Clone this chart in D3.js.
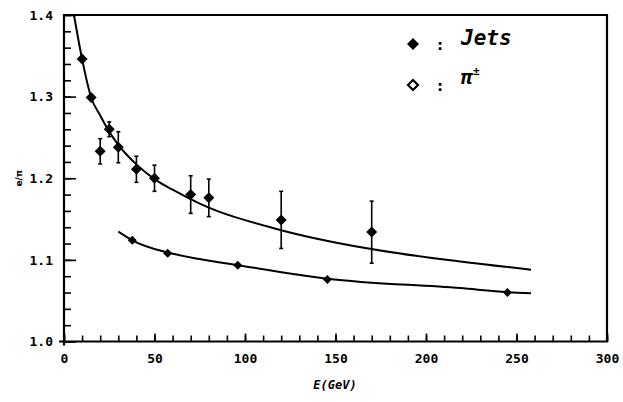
<!DOCTYPE html>
<html>
<head>
<meta charset="utf-8">
<script src="https://cdn.jsdelivr.net/npm/d3@7"></script>
<style>
  body { margin: 0; background: #fff; }
  svg { display: block; }
  .tick text { font-family: "DejaVu Sans Mono", monospace; font-weight: bold; font-size: 13px; fill: #000; }
</style>
</head>
<body>
<script>
// jets: energy, ratio, error
const jetE = [10, 15, 20, 25, 30, 40, 50, 70, 80, 120, 170];
const jetV = [1.346, 1.299, 1.233, 1.260, 1.238, 1.211, 1.200, 1.180, 1.176, 1.149, 1.134];
const jetErr = [0.005, 0.004, 0.0155, 0.009, 0.019, 0.016, 0.016, 0.023, 0.023, 0.035, 0.038];

// pions
const pionE = [37.7, 57.3, 96, 145.5, 245];
const pionV = [1.124, 1.108, 1.0935, 1.076, 1.060];

// fitted curves
const jetCurveE = [5.5, 10, 15, 20, 25, 30, 40, 50, 60, 75, 119, 169, 219, 258];
const jetCurveV = [1.4, 1.346, 1.299, 1.277, 1.257, 1.241, 1.217, 1.199, 1.186, 1.169, 1.137, 1.1135, 1.098, 1.088];
const pionCurveE = [30, 37.7, 57.3, 75, 96, 145.5, 219, 245, 258];
const pionCurveV = [1.1346, 1.124, 1.109, 1.101, 1.0935, 1.077, 1.0654, 1.0605, 1.0592];

const xTicks = [0, 50, 100, 150, 200, 250, 300];
const yTicks = [1.0, 1.1, 1.2, 1.3, 1.4];

const W = 623, H = 402;
const svg = d3.select("body").append("svg").attr("width", W).attr("height", H);

const x = d3.scaleLinear().domain([0, 300]).range([64, 607]);
const y = d3.scaleLinear().domain([1.0, 1.4]).range([341.5, 15]);

// minor ticks
svg.append("g")
  .attr("transform", "translate(" + x(0) + ",0)")
  .call(d3.axisLeft(y).ticks(20).tickSize(-7).tickFormat(""))
  .call((g) => g.select(".domain").remove());
svg.append("g")
  .attr("transform", "translate(0," + y(1.0) + ")")
  .call(d3.axisBottom(x).ticks(30).tickSize(-6).tickFormat(""))
  .call((g) => g.select(".domain").remove());

// major ticks + labels
const yAxis = svg.append("g")
  .attr("transform", "translate(" + x(0) + ",0)")
  .call(d3.axisLeft(y).tickValues(yTicks).tickSizeInner(-12).tickSizeOuter(0).tickPadding(11).tickFormat(d3.format(".1f")));
yAxis.select(".domain").remove();
const xAxis = svg.append("g")
  .attr("transform", "translate(0," + y(1.0) + ")")
  .call(d3.axisBottom(x).tickValues(xTicks).tickSizeInner(-8).tickSizeOuter(0).tickPadding(12));
xAxis.select(".domain").remove();

svg.selectAll(".tick line").attr("stroke", "#000").attr("stroke-width", 1.6);

// frame
svg.append("path")
  .attr("d", "M" + (x(0) - 5) + "," + y(1.0) + "H" + x(300) + "V" + y(1.4) + "H" + x(0) + "V" + (y(1.0) + 4))
  .attr("fill", "none")
  .attr("stroke", "#000")
  .attr("stroke-width", 2.2);

// axis titles
svg.append("text")
  .attr("x", 335).attr("y", 389)
  .attr("text-anchor", "middle")
  .style("font-family", "DejaVu Sans Mono")
  .style("font-weight", "bold")
  .style("font-style", "italic")
  .style("font-size", "12px")
  .text("E(GeV)");
svg.append("text")
  .attr("transform", "translate(19," + y(1.2) + ") rotate(-90)")
  .attr("text-anchor", "middle")
  .attr("dy", "0.35em")
  .style("font-family", "DejaVu Sans")
  .style("font-weight", "bold")
  .style("font-size", "9px")
  .text("e/π");

// curves
const line = d3.line().x((d) => x(d[0])).y((d) => y(d[1])).curve(d3.curveMonotoneX);
[[jetCurveE, jetCurveV], [pionCurveE, pionCurveV]].forEach(([es, vs]) => {
  svg.append("path")
    .datum(es.map((e, i) => [e, vs[i]]))
    .attr("d", line)
    .attr("fill", "none")
    .attr("stroke", "#000")
    .attr("stroke-width", 2);
});

// error bars
const jets = jetE.map((e, i) => ({ e: e, v: jetV[i], err: jetErr[i] }));
const eb = svg.append("g").attr("stroke", "#000").attr("stroke-width", 1.6);
eb.selectAll("line.bar").data(jets).enter().append("line")
  .attr("x1", (d) => x(d.e)).attr("x2", (d) => x(d.e))
  .attr("y1", (d) => y(d.v - d.err)).attr("y2", (d) => y(d.v + d.err));
eb.selectAll("line.cap1").data(jets.filter((d) => d.err > 0.006)).enter().append("line")
  .attr("x1", (d) => x(d.e) - 2).attr("x2", (d) => x(d.e) + 2)
  .attr("y1", (d) => y(d.v + d.err)).attr("y2", (d) => y(d.v + d.err));
eb.selectAll("line.cap2").data(jets.filter((d) => d.err > 0.006)).enter().append("line")
  .attr("x1", (d) => x(d.e) - 2).attr("x2", (d) => x(d.e) + 2)
  .attr("y1", (d) => y(d.v - d.err)).attr("y2", (d) => y(d.v - d.err));

// markers
const diamond = (r) => "M0," + (-r) + "L" + r + ",0L0," + r + "L" + (-r) + ",0Z";
svg.append("g").selectAll("path").data(jets).enter().append("path")
  .attr("transform", (d) => "translate(" + x(d.e) + "," + y(d.v) + ")")
  .attr("d", diamond(5.5))
  .attr("fill", "#000");
svg.append("g").selectAll("path").data(pionE.map((e, i) => [e, pionV[i]])).enter().append("path")
  .attr("transform", (d) => "translate(" + x(d[0]) + "," + y(d[1]) + ")")
  .attr("d", diamond(4.5))
  .attr("fill", "#000");

// legend
const leg = svg.append("g").style("font-family", "DejaVu Sans Mono").style("font-weight", "bold");
leg.append("path").attr("transform", "translate(413,44)").attr("d", diamond(6)).attr("fill", "#000");
leg.append("path").attr("transform", "translate(413,85)").attr("d", diamond(5))
  .attr("fill", "#fff").attr("stroke", "#000").attr("stroke-width", 2.2);
leg.append("text").attr("x", 440).attr("y", 50).attr("text-anchor", "middle").style("font-size", "16px").text(":");
leg.append("text").attr("x", 440).attr("y", 91).attr("text-anchor", "middle").style("font-size", "16px").text(":");
leg.append("text").attr("x", 461).attr("y", 45).style("font-size", "21px").style("font-style", "italic").text("Jets");
const pi = leg.append("text").attr("x", 461).attr("y", 84).style("font-size", "20px").style("font-style", "italic");
pi.append("tspan").text("π");
pi.append("tspan").attr("dy", "-9").style("font-size", "11px").text("±");
</script>
</body>
</html>
